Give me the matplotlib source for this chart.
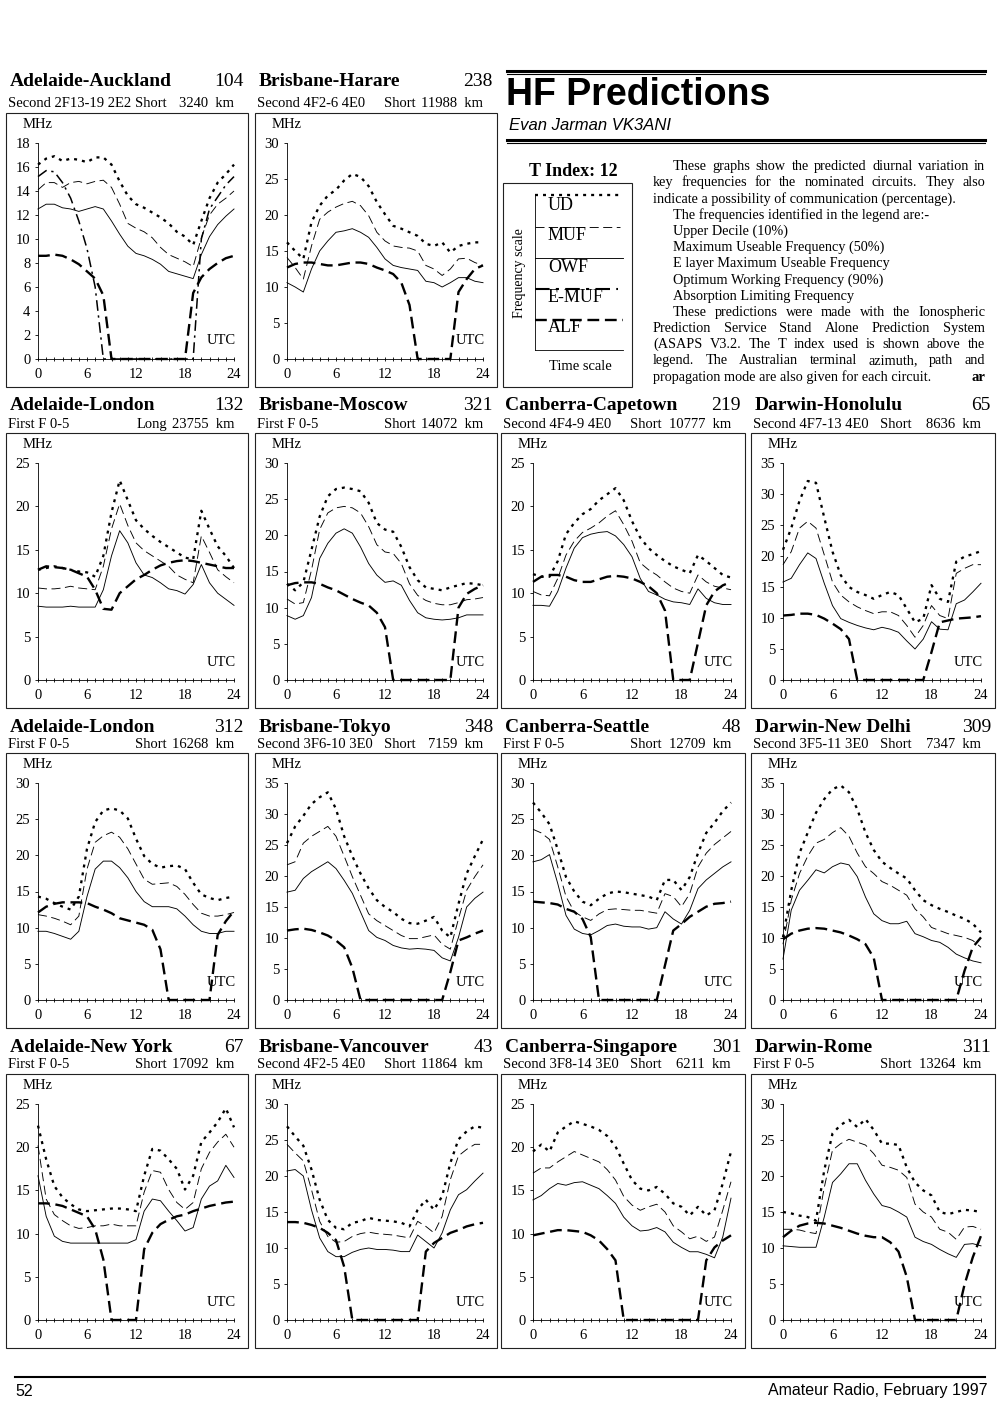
import matplotlib
matplotlib.use('Agg')
import matplotlib.pyplot as plt
from matplotlib.lines import Line2D
from matplotlib.patches import Rectangle
from matplotlib.ticker import MultipleLocator

# ---------------- DATA ----------------
HOURS = list(range(25))

# Adelaide-Auckland
AA_UD = [16.2,16.7,16.9,16.5,16.7,16.6,16.4,16.8,16.8,16.2,14.8,13.6,12.9,12.6,12.2,11.8,11.3,10.6,10.2,9.5,11.5,13.4,14.7,15.4,16.2]
AA_MUF = [14.1,14.7,14.7,14.3,14.7,14.8,14.6,14.8,14.9,14.3,12.9,11.3,10.9,10.6,10.1,9.3,8.7,8.4,8.1,7.7,10.1,12.0,12.9,13.4,14.0]
AA_OWF = [12.5,12.9,12.9,12.6,12.5,12.3,12.5,12.7,12.5,11.5,10.4,9.4,8.8,8.6,8.3,7.9,7.3,7.1,6.9,6.7,8.7,10.2,11.2,11.9,12.5]
AA_EMUF = [15.2,15.7,15.6,14.7,13.4,11.5,9.2,6.0,0,0,0,0,0,0,0,0,0,0,0,0,10.0,12.5,13.5,14.5,15.2]
AA_ALF = [8.6,8.6,8.7,8.6,8.3,7.9,7.3,6.7,5.3,0,0,0,0,0,0,0,0,0,0,5.5,6.8,7.5,8.0,8.4,8.6]

# Brisbane-Harare
BH_UD = [16.2,15.0,13.9,19.0,21.3,22.7,23.5,24.8,25.7,25.3,24.0,21.8,20.1,18.5,18.1,17.6,17.1,16.0,15.7,16.2,14.8,15.7,16.0,16.2,16.2]
BH_MUF = [14.1,12.7,11.1,15.7,19.4,20.4,21.1,21.6,21.9,21.3,19.9,17.6,16.4,15.7,15.5,15.4,15.0,13.0,12.5,11.6,12.5,13.9,14.0,13.4,13.0]
BH_OWF = [10.6,10.0,9.3,12.5,15.0,16.4,17.6,17.8,18.1,17.6,16.9,15.5,13.9,13.0,12.7,12.5,12.3,10.8,10.6,10.0,10.6,11.3,11.3,10.8,10.6]
BH_ALF = [12.7,13.2,13.4,13.4,13.2,13.0,13.0,13.2,13.4,13.4,13.2,12.7,12.3,11.8,10.6,7.5,0,0,0,0,0,9.3,11.1,12.5,13.0]

# Adelaide-London (long path)
AL1_UD = [12.7,12.9,13.1,12.9,12.7,12.5,12.4,11.9,14.3,19.3,23.0,20.7,18.4,17.4,16.6,15.9,15.3,14.7,14.1,13.9,19.5,17.4,15.4,14.3,12.9]
AL1_MUF = [10.6,10.5,10.5,10.6,10.8,10.6,10.5,10.4,13.1,17.4,20.3,17.8,15.8,14.9,14.3,13.7,13.1,12.1,11.6,11.2,16.6,14.7,12.7,11.9,11.2]
AL1_OWF = [8.5,8.4,8.4,8.4,8.5,8.4,8.4,8.4,10.4,14.3,17.2,15.8,13.5,12.1,11.8,11.2,10.5,10.3,9.9,11.0,13.3,11.2,10.0,9.3,8.6]
AL1_ALF = [12.7,13.1,13.0,12.9,12.7,12.3,11.9,10.4,8.2,8.1,10.0,10.8,11.6,12.1,12.7,13.2,13.5,13.7,13.8,13.7,13.5,13.3,13.1,12.9,12.9]

# Brisbane-Moscow
BM_UD = [13.3,12.4,13.5,18.0,22.6,25.4,26.4,26.6,26.4,26.1,24.5,21.7,20.8,20.5,18.4,15.6,13.8,12.8,12.6,12.4,12.8,13.1,13.4,13.3,13.1]
BM_MUF = [11.2,10.5,10.7,15.2,20.8,23.1,23.8,24.0,23.8,23.1,21.2,18.7,17.7,17.5,16.1,13.3,11.7,11.0,10.6,10.4,10.4,10.7,11.1,11.2,11.4]
BM_OWF = [8.9,8.4,8.9,11.4,16.8,18.9,20.3,20.9,20.3,18.4,16.1,14.5,13.5,13.7,13.1,11.0,9.3,8.6,8.4,8.3,8.4,8.6,9.0,9.0,9.0]
BM_ALF = [13.1,13.4,13.5,13.5,13.3,12.8,12.4,11.8,11.2,10.7,10.3,9.3,7.3,0,0,0,0,0,0,0,0,10.0,11.9,12.6,13.1]

# Canberra-Capetown
CC_UD = [12.2,11.9,11.9,13.7,16.8,18.1,19.1,19.7,20.7,21.4,22.1,20.7,18.3,16.4,15.2,14.4,13.7,13.1,12.7,12.3,14.4,13.7,12.9,12.1,11.8]
CC_MUF = [10.2,9.8,9.7,11.7,14.4,16.0,17.0,17.5,18.1,18.9,19.5,17.9,16.0,13.5,12.7,12.1,11.3,10.6,10.2,10.0,12.1,11.3,10.8,10.6,10.4]
CC_OWF = [8.6,8.6,8.5,10.2,12.9,15.2,16.4,16.8,17.0,17.1,16.6,15.6,14.2,11.7,10.2,9.8,9.3,9.0,8.9,8.7,10.5,9.4,8.9,8.7,8.7]
CC_ALF = [11.3,11.9,12.1,12.1,11.9,11.5,11.3,11.3,11.6,11.9,12.0,11.9,11.7,11.3,10.8,10.0,8.0,0,0,0,4.3,8.6,10.2,10.9,11.3]

# Darwin-Honolulu
DH_UD = [21.0,24.5,28.9,32.1,31.8,26.2,20.7,16.9,15.0,14.2,13.7,13.1,13.7,14.2,13.7,11.5,9.3,9.9,15.3,13.1,12.6,19.1,19.9,20.3,20.8]
DH_MUF = [18.6,20.7,24.5,25.6,24.5,20.2,15.8,13.7,12.6,11.8,11.2,10.7,11.0,11.0,10.4,8.8,6.9,8.8,12.0,10.4,9.9,17.2,18.0,18.6,18.6]
DH_OWF = [15.8,16.4,18.6,20.5,19.6,15.6,12.0,9.9,9.3,8.8,8.4,8.1,8.5,8.2,7.7,6.3,5.0,6.6,9.4,8.2,8.1,12.3,12.9,14.2,15.6]
DH_ALF = [10.4,10.5,10.7,10.7,10.5,9.9,9.1,8.2,6.6,0,0,0,0,0,0,0,0,0,4.5,9.3,9.6,9.9,10.0,10.1,10.3]

# Adelaide-London (short path)
AL2_UD = [14.3,14.0,13.4,12.9,12.5,14.3,20.9,24.6,26.2,26.5,26.2,25.1,22.3,19.9,18.8,18.3,18.5,18.6,18.1,16.2,14.6,14.1,13.8,14.1,14.3]
AL2_MUF = [11.8,11.6,11.3,10.9,10.4,11.6,18.1,21.8,22.7,23.2,22.5,20.9,18.8,16.7,16.0,16.1,16.2,15.7,14.6,13.2,12.0,11.6,11.6,11.8,12.1]
AL2_OWF = [9.5,9.5,9.2,8.8,8.4,9.5,14.3,18.1,19.2,19.2,18.3,16.9,15.0,13.6,12.9,12.9,12.9,12.6,11.6,10.4,9.5,9.2,9.2,9.5,9.5]
AL2_ALF = [12.1,12.9,13.3,13.5,13.5,13.5,13.4,12.9,12.5,12.0,11.3,11.0,10.7,10.4,9.7,7.0,0,0,0,0,0,0,9.0,10.9,12.3]

# Brisbane-Tokyo
BT_UD = [25.3,28.0,29.7,31.6,32.7,33.5,30.8,26.4,23.2,20.4,18.0,16.1,15.0,14.2,13.1,12.4,12.3,12.8,13.4,11.2,10.1,15.5,20.4,23.2,25.9]
BT_MUF = [21.8,22.3,25.3,26.4,27.2,28.0,26.4,23.2,19.9,16.9,13.9,12.8,12.0,11.2,10.4,9.9,9.9,10.2,10.5,9.0,8.2,13.1,17.7,19.9,21.8]
BT_OWF = [17.4,17.7,19.6,20.7,21.5,22.3,21.2,19.3,17.2,14.2,11.2,10.1,9.6,8.8,8.4,8.2,8.3,8.2,8.0,6.8,6.3,10.1,15.0,16.4,17.4]
BT_ALF = [11.2,11.4,11.5,11.3,10.9,10.4,9.6,8.5,5.2,0,0,0,0,0,0,0,0,0,0,0,4.5,9.6,10.1,10.7,11.2]

# Canberra-Seattle
CS_UD = [27.3,25.9,24.3,20.8,17.0,15.0,13.6,13.1,14.0,14.7,15.0,14.9,14.7,14.5,14.3,13.8,16.6,16.6,15.2,17.0,20.3,23.1,24.5,26.1,27.3]
CS_MUF = [23.6,23.1,22.2,18.4,14.3,12.2,11.5,11.0,11.9,12.5,12.6,12.5,12.4,12.4,12.2,12.0,14.7,14.3,12.9,14.7,18.4,20.3,21.5,22.4,23.3]
CS_OWF = [19.1,19.4,20.1,16.1,11.7,9.8,9.2,9.0,9.6,10.3,10.5,10.2,10.1,10.1,9.8,10.0,12.2,11.2,10.5,12.4,15.4,16.6,17.5,18.4,19.1]
CS_ALF = [13.6,13.5,13.4,13.2,12.6,12.2,11.2,8.7,0,0,0,0,0,0,0,0,4.8,9.6,10.5,11.5,12.2,12.9,13.3,13.4,13.6]

# Darwin-New Delhi
DN_UD = [10.1,17.7,23.7,27.0,30.2,32.4,34.0,34.6,33.5,30.8,27.0,24.2,22.3,21.3,20.4,19.6,17.7,16.1,15.3,14.7,14.2,13.6,13.1,12.3,10.9]
DN_MUF = [9.0,16.1,20.4,23.2,25.3,25.9,27.0,27.8,26.4,23.7,21.5,20.4,19.1,18.5,17.7,16.9,14.7,13.4,11.7,11.2,10.7,10.4,10.1,9.6,8.5]
DN_OWF = [6.6,14.5,17.7,19.3,21.0,20.5,21.5,22.1,21.8,19.9,16.6,13.9,12.8,12.3,12.3,12.7,10.7,10.2,9.6,9.3,8.5,7.4,6.8,6.3,6.0]
DN_ALF = [9.8,10.7,11.2,11.5,11.6,11.5,11.2,10.9,10.4,9.8,9.0,6.8,0,0,0,0,0,0,0,0,0,0,4.7,8.5,10.1]

# Adelaide-New York
AN_UD = [22.5,18.6,15.5,14.2,13.4,12.8,12.6,12.7,12.8,12.9,12.9,12.8,12.6,16.7,19.8,19.6,18.6,17.5,15.1,16.7,20.6,21.7,22.9,24.5,22.3]
AN_MUF = [20.2,14.0,12.2,11.5,10.9,10.6,10.7,10.9,10.9,11.1,10.9,10.9,10.9,14.8,17.3,17.1,15.1,13.6,12.8,13.6,17.5,19.4,20.6,21.5,20.0]
AN_OWF = [16.7,12.0,9.7,9.1,8.9,8.9,8.9,8.9,8.9,8.9,8.9,8.9,9.3,12.6,14.0,13.8,12.6,11.5,10.3,10.7,14.0,15.5,16.1,17.9,16.5]
AN_ALF = [13.5,13.5,13.4,13.2,12.8,12.4,12.0,10.5,7.0,0,0,0,0,8.2,10.1,11.1,11.6,12.0,12.2,12.6,12.9,13.2,13.4,13.6,13.7]

# Brisbane-Vancouver
BV_UD = [26.9,25.5,24.2,20.9,16.7,13.9,12.8,12.6,13.5,13.7,14.2,13.9,13.8,13.7,13.5,13.0,15.3,16.7,15.3,17.2,21.8,25.1,26.2,26.9,26.7]
BV_MUF = [24.4,23.2,22.1,18.1,13.7,11.6,10.8,10.9,11.6,12.0,12.2,12.0,11.9,11.8,11.6,11.4,13.7,13.0,12.1,14.4,19.5,22.8,23.7,24.4,24.4]
BV_OWF = [20.7,20.9,20.0,15.3,11.4,9.5,8.8,8.8,9.4,9.8,10.0,9.8,9.8,9.7,9.5,9.5,11.8,10.9,10.0,12.1,15.3,17.4,18.1,19.3,20.4]
BV_ALF = [13.6,13.6,13.5,13.2,12.8,12.1,11.1,7.4,0,0,0,0,0,0,0,0,0,9.5,10.7,11.4,12.1,12.5,13.0,13.3,13.5]

# Canberra-Singapore
CG_UD = [19.5,20.3,19.5,21.7,22.4,23.0,22.7,22.4,22.0,21.3,20.1,18.1,16.2,15.2,15.0,15.4,14.6,13.5,13.1,12.1,13.1,12.1,12.7,15.8,19.5]
CG_MUF = [17.0,17.6,17.6,18.3,18.9,19.5,19.1,18.7,18.3,17.4,16.2,14.3,13.3,12.7,13.1,13.4,12.5,10.9,10.2,9.4,9.7,9.1,9.6,12.7,16.0]
CG_OWF = [13.9,14.4,15.2,15.8,15.6,15.9,16.0,15.6,15.2,14.4,13.5,11.9,10.9,10.3,10.4,10.7,10.2,9.0,8.4,7.9,7.9,7.6,7.2,9.6,14.1]
CG_ALF = [9.8,10.0,10.2,10.4,10.4,10.3,10.2,9.8,9.2,8.2,6.9,0,0,0,0,0,0,0,0,0,0,6.9,8.4,9.2,9.8]

# Darwin-Rome
DR_UD = [15.0,14.8,14.5,14.3,13.8,20.8,25.9,27.1,27.8,26.8,27.9,26.4,24.5,24.5,24.3,21.2,19.1,18.0,17.3,15.0,14.7,15.0,15.3,15.2,15.0]
DR_MUF = [12.6,12.6,12.5,12.2,12.0,18.4,23.6,24.5,25.1,24.7,24.3,23.1,21.5,21.2,20.8,19.8,16.1,15.0,14.3,12.6,12.2,11.2,12.9,13.0,12.6]
DR_OWF = [10.3,10.2,10.1,10.1,10.1,14.3,19.1,20.3,21.7,21.7,19.4,17.5,15.9,15.6,15.0,14.3,11.5,10.9,10.5,9.8,9.2,8.7,10.5,10.6,10.3]
DR_ALF = [11.5,12.4,13.1,13.4,13.5,13.4,13.1,12.8,12.4,12.0,11.7,11.5,11.5,10.8,9.5,6.0,0,0,0,0,0,0,4.9,8.7,11.7]

TITLES = ["Adelaide-Auckland", "Brisbane-Harare",
          "Adelaide-London", "Brisbane-Moscow", "Canberra-Capetown", "Darwin-Honolulu",
          "Adelaide-London", "Brisbane-Tokyo", "Canberra-Seattle", "Darwin-New Delhi",
          "Adelaide-New York", "Brisbane-Vancouver", "Canberra-Singapore", "Darwin-Rome"]
AZIMUTHS = ["104", "238", "132", "321", "219", "65", "312", "348", "48", "309", "67", "43", "301", "311"]
MODES = ["Second 2F13-19 2E2", "Second 4F2-6 4E0", "First F 0-5", "First F 0-5",
         "Second 4F4-9 4E0", "Second 4F7-13 4E0", "First F 0-5", "Second 3F6-10 3E0",
         "First F 0-5", "Second 3F5-11 3E0", "First F 0-5", "Second 4F2-5 4E0",
         "Second 3F8-14 3E0", "First F 0-5"]
PATH_TYPES = ["Short", "Short", "Long", "Short", "Short", "Short", "Short", "Short",
              "Short", "Short", "Short", "Short", "Short", "Short"]
DISTANCES = ["3240  km", "11988  km", "23755  km", "14072  km", "10777  km", "8636  km",
             "16268  km", "7159  km", "12709  km", "7347  km", "17092  km", "11864  km",
             "6211  km", "13264  km"]
Y_MAX = [18, 30, 25, 30, 25, 35, 30, 35, 30, 35, 25, 30, 25, 30]
Y_STEP = [2, 5, 5, 5, 5, 5, 5, 5, 5, 5, 5, 5, 5, 5]
X_TICKS = [0, 6, 12, 18, 24]

UD_SERIES = [AA_UD, BH_UD, AL1_UD, BM_UD, CC_UD, DH_UD, AL2_UD, BT_UD, CS_UD, DN_UD, AN_UD, BV_UD, CG_UD, DR_UD]
MUF_SERIES = [AA_MUF, BH_MUF, AL1_MUF, BM_MUF, CC_MUF, DH_MUF, AL2_MUF, BT_MUF, CS_MUF, DN_MUF, AN_MUF, BV_MUF, CG_MUF, DR_MUF]
OWF_SERIES = [AA_OWF, BH_OWF, AL1_OWF, BM_OWF, CC_OWF, DH_OWF, AL2_OWF, BT_OWF, CS_OWF, DN_OWF, AN_OWF, BV_OWF, CG_OWF, DR_OWF]
ALF_SERIES = [AA_ALF, BH_ALF, AL1_ALF, BM_ALF, CC_ALF, DH_ALF, AL2_ALF, BT_ALF, CS_ALF, DN_ALF, AN_ALF, BV_ALF, CG_ALF, DR_ALF]
EMUF_SERIES = [AA_EMUF] + [None] * 13

LEGEND_LABELS = ["UD", "MUF", "OWF", "E-MUF", "ALF"]
PARA_LINES = [
    "These graphs show the predicted diurnal variation in",
    "key frequencies for the nominated circuits. They also",
    "indicate a possibility of communication (percentage).",
    "The frequencies identified in the legend are:-",
    "Upper Decile (10%)",
    "Maximum Useable Frequency (50%)",
    "E layer Maximum Useable Frequency",
    "Optimum Working Frequency (90%)",
    "Absorption Limiting Frequency",
    "These predictions were made with the Ionospheric",
    "Prediction Service Stand Alone Prediction System",
    "(ASAPS V3.2. The T index used is shown above the",
    "legend. The Australian terminal azimuth, path and",
    "propagation mode are also given for each circuit.",
]

# ---------------- STYLE / LAYOUT ----------------
W, H = 1000, 1404
SERIF = ['Liberation Serif', 'DejaVu Serif']
SANS = ['Liberation Sans', 'DejaVu Sans']
plt.rcParams['font.family'] = SERIF

STY_UD = dict(color='black', lw=1.65, ls=(0, (1.3, 2.2)), dash_capstyle='butt')
STY_MUF = dict(color='black', lw=0.65, ls=(0, (10, 5)))
STY_OWF = dict(color='black', lw=0.65, ls='-')
STY_EMUF = dict(color='black', lw=1.1, ls=(0, (7, 3, 1.5, 3)))
STY_ALF = dict(color='black', lw=1.7, ls=(0, (5, 2.4)), dash_capstyle='butt')

COL_X = [(6, 248), (255, 497), (501, 745), (751, 995)]
ROW_Y = [(113, 387), (433, 708), (753, 1028), (1074, 1348)]
TITLE_Y = [80, 404, 725, 1045]
SUB_Y = [102, 423, 743, 1063]
GRID = [(0, 0), (0, 1),
        (1, 0), (1, 1), (1, 2), (1, 3),
        (2, 0), (2, 1), (2, 2), (2, 3),
        (3, 0), (3, 1), (3, 2), (3, 3)]

fig = plt.figure(figsize=(W / 100, H / 100), dpi=100)
fig.patch.set_facecolor('white')
ov = fig.add_axes([0, 0, 1, 1])
ov.set_xlim(0, W)
ov.set_ylim(H, 0)
ov.axis('off')


def frect(x0, y0, x1, y1):
    return [x0 / W, 1 - y1 / H, (x1 - x0) / W, (y1 - y0) / H]


# ---------------- PANELS ----------------
for i, title in enumerate(TITLES):
    r, c = GRID[i]
    bx0, bx1 = COL_X[c]
    by0, by1 = ROW_Y[r]
    ov.add_patch(Rectangle((bx0, by0), bx1 - bx0, by1 - by0, fill=False,
                           lw=0.8, edgecolor='#222222'))
    ov.text(bx0 + 4, TITLE_Y[r], title, fontsize=14, fontweight='bold',
            ha='left', va='center_baseline')
    ov.text(bx1 - 4, TITLE_Y[r], AZIMUTHS[i], fontsize=14,
            ha='right', va='center_baseline')
    ov.text(bx0 + 2, SUB_Y[r], MODES[i], fontsize=10.5, ha='left', va='center_baseline')
    ov.text(bx0 + 161, SUB_Y[r], PATH_TYPES[i], fontsize=10.5, ha='right', va='center_baseline')
    ov.text(bx1 - 14, SUB_Y[r], DISTANCES[i], fontsize=10.5, ha='right', va='center_baseline')

    ax0, ax1 = bx0 + 32, bx1 - 14
    ay0, ay1 = by0 + 30, by1 - 28
    ax = fig.add_axes(frect(ax0, ay0, ax1, ay1))
    ax.set_facecolor('none')
    ax.set_xlim(0, 24)
    ax.set_ylim(0, Y_MAX[i])
    for s in ('top', 'right'):
        ax.spines[s].set_visible(False)
    for s in ('left', 'bottom'):
        ax.spines[s].set_linewidth(0.6)
    ax.set_xticks(X_TICKS)
    ax.xaxis.set_minor_locator(MultipleLocator(1))
    ax.yaxis.set_major_locator(MultipleLocator(Y_STEP[i]))
    ax.tick_params(axis='x', which='both', direction='inout', length=3.5, width=0.6,
                   labelsize=10.5, pad=5)
    ax.tick_params(axis='y', which='major', direction='out', length=2.5, width=0.6,
                   labelsize=10.5, pad=3)
    ax.tick_params(axis='y', which='minor', length=0)

    ax.plot(HOURS, OWF_SERIES[i], clip_on=False, **STY_OWF)
    ax.plot(HOURS, MUF_SERIES[i], clip_on=False, **STY_MUF)
    ax.plot(HOURS, UD_SERIES[i], clip_on=False, **STY_UD)
    if EMUF_SERIES[i] is not None:
        ax.plot(HOURS, EMUF_SERIES[i], clip_on=False, **STY_EMUF)
    ax.plot(HOURS, ALF_SERIES[i], clip_on=False, **STY_ALF)

    ov.text(ax0, by0 + 11.5, "MHz", fontsize=10.5, ha='center', va='center')
    ov.text(ax1 + 2, ay1 - 18, "UTC", fontsize=10.5, ha='right', va='center')

# ---------------- HEADER ----------------
ov.add_line(Line2D([507, 985], [70.5, 70.5], lw=2.2, color='black'))
ov.add_line(Line2D([507, 985], [73.8, 73.8], lw=0.8, color='black'))
ov.text(506, 95, "HF Predictions", family=SANS, fontsize=27, fontweight='bold',
        ha='left', va='center')
ov.text(509, 125, "Evan Jarman VK3ANI", family=SANS, fontsize=12, style='italic',
        ha='left', va='center')
ov.add_line(Line2D([507, 985], [139.5, 139.5], lw=2.2, color='black'))
ov.add_line(Line2D([507, 985], [142.8, 142.8], lw=0.8, color='black'))

# Legend box
ov.text(573, 172, "T Index: 12", fontsize=13, fontweight='bold', ha='center', va='center')
ov.add_patch(Rectangle((503, 183), 129, 204, fill=False, lw=0.8, edgecolor='#222222'))
ov.add_line(Line2D([535, 535], [195, 350], lw=0.6, color='black'))
ov.add_line(Line2D([535, 623], [350, 350], lw=0.6, color='black'))
leg_styles = [STY_UD, STY_MUF, STY_OWF, STY_EMUF, STY_ALF]
leg_line_y = [195, 227, 258, 289, 320]
leg_text_y = [206, 236, 267, 298, 328]
leg_end = [623, 620, 623, 618, 623]
for lab, sty, ly, ty, le in zip(LEGEND_LABELS, leg_styles, leg_line_y, leg_text_y, leg_end):
    st = dict(sty)
    if lab == "E-MUF":
        st['lw'] = 1.5
    ov.add_line(Line2D([535, le], [ly, ly], **st))
    ov.text(548, ty, lab, fontsize=13, ha='left', va='center')
ov.text(519, 273, "Frequency scale", fontsize=10, rotation=90, ha='center', va='center')
ov.text(580, 366, "Time scale", fontsize=10.5, ha='center', va='center')

# Paragraph text (justified lines drawn word by word)
renderer = fig.canvas.get_renderer()
PX0, PX1 = 653, 985
LINE_H = 16.2
FS_P = 10.3
INDENT = [20, 0, 0, 20, 20, 20, 20, 20, 20, 20, 0, 0, 0, 0]
JUST = [True, True, False, False, False, False, False, False, False, True, True, True, True, False]
for k, line in enumerate(PARA_LINES):
    y = 166 + LINE_H * k + 4
    x_start = PX0 + INDENT[k]
    if not JUST[k]:
        ov.text(x_start, y, line, fontsize=FS_P, ha='left', va='baseline')
        continue
    words = line.split()
    tobjs = [ov.text(0, y, w, fontsize=FS_P, ha='left', va='baseline') for w in words]
    widths = [t.get_window_extent(renderer=renderer).width for t in tobjs]
    gap = (PX1 - x_start - sum(widths)) / (len(words) - 1)
    x = x_start
    for t, wd in zip(tobjs, widths):
        t.set_x(x)
        x += wd + gap
ov.text(PX1, 166 + LINE_H * 13 + 4, "ar", fontsize=10.5, fontweight='bold', ha='right', va='baseline')

# ---------------- FOOTER ----------------
ov.add_line(Line2D([15, 985], [1377, 1377], lw=1.5, color='black'))
ov.text(15, 1391, "52", family=SANS, fontsize=11.5, ha='left', va='center')
ov.text(988, 1391, "Amateur Radio, February 1997", family=SANS, fontsize=11.5,
        ha='right', va='center')

fig.savefig('out.png', dpi=100, facecolor='white')
